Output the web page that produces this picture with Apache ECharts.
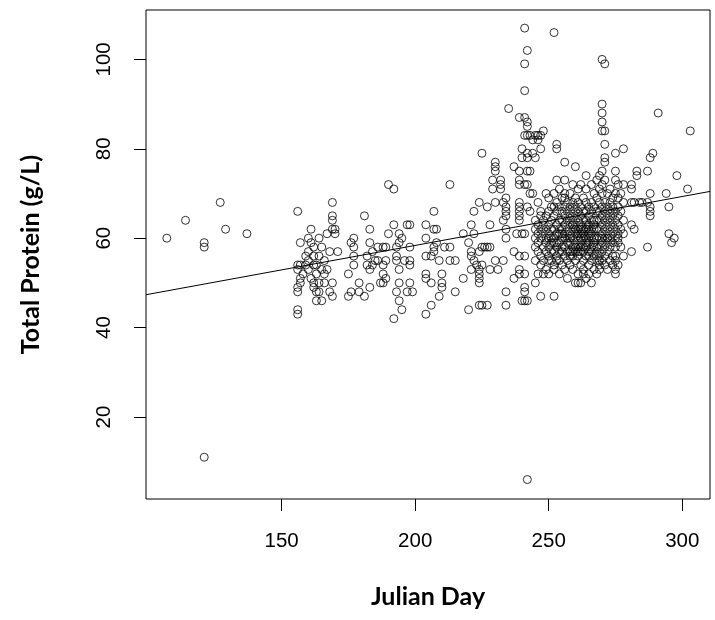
<!DOCTYPE html>
<html>
<head>
<meta charset="utf-8">
<script src="https://cdn.jsdelivr.net/npm/echarts@6.0.0/dist/echarts.min.js"></script>
<style>
html,body{margin:0;padding:0;background:#fff;}
#c{width:715px;height:620px;}
</style>
</head>
<body>
<div id="c"></div>
<script>
// Axis ticks
const xTickValues = [150, 200, 250, 300];
const yTickValues = [20, 40, 60, 80, 100];

// [Julian day, total protein g/L]
const earlySeason = [
  [107,60],[114,64],[121,59],[121,58],[121,11],[127,68],[129,62],[137,61],
  [156,66],[156,54],[156,53],[156,49],[156,48],[156,44],[156,43],
  [157,59],[157,54],[157,51],[157,50],[158,52],[159,54],[159,56],
  [160,60],[160,57],[160,55],[160,53],[161,62],[161,59],[161,51],
  [162,58],[162,56],[162,54],[162,50],[162,49],[163,54],[163,52],[163,48],[163,46],
  [164,60],[164,56],[164,50],[164,48],[165,46],[165,58],[165,53],[166,55],[166,52],[166,50],[167,53],[167,61],
  [168,57],[168,48],[169,68],[169,65],[169,64],[169,62],[169,50],[169,47],[170,62],[170,61],[171,57]
];

const midSeason = [
  [176,48],[175,47],[175,52],[177,60],[176,59],[177,58],[177,56],[177,54],[179,50],[179,48],[181,65],[181,47],
  [183,62],[183,49],[183,59],[184,57],[182,56],[182,54],[183,53],[184,54],[185,55],[186,58],[188,58],[189,58],
  [186,55],[189,55],[188,54],[188,52],[189,51],[188,50],[187,50],[190,72],[192,71],[190,61],[192,63],[194,61],
  [195,60],[194,59],[193,58],[193,56],[193,55],[194,53],[196,55],[198,58],[198,55],[198,54],[197,63],[198,63],
  [194,50],[198,50],[193,48],[197,48],[199,48],[194,46],[195,44],[192,42],
  [204,63],[207,66],[207,62],[208,62],[204,60],[208,59],[207,58],[211,58],[213,58],[204,56],[206,56],[207,57],
  [209,55],[213,55],[215,55],[204,52],[204,51],[206,50],[210,52],[210,50],[210,49],[209,47],[215,48],[206,45],
  [204,43],[213,72],
  [224,68],[222,66],[221,63],[218,61],[222,61],[220,59],[221,57],[221,56],[224,57],[222,55],[223,54],[221,53],
  [224,53],[224,50],[218,51],[220,44],[225,45],[226,58],
  [225,79],[227,67],[228,63],[230,77],[230,76],[230,75],[229,73],[229,71],[230,68],[232,73],[232,72],[232,71],
  [234,69],[233,68],[234,67],[234,66],[234,65],[233,64],[234,62],[237,76],[235,89],
  [234,60],[225,58],[228,58],[227,58],[230,55],[233,55],[225,54],[231,53],[228,53],[224,52],[224,51],
  [237,51],[234,48],[224,45],[227,45],[234,45],
  [237,57],[239,56],[241,56],[239,53],[239,52],[241,52],[241,49],[241,48],[240,46],[241,46],[242,46],
  [238,61],[240,61],[241,61],[242,6]
];

const lateSeason = [
  [241,107],[252,106],[242,102],[241,99],[241,93],[239,87],[241,87],[242,86],[242,85],[241,83],[243,83],[245,83],
  [246,83],[248,84],[242,83],[244,82],[246,82],[247,83],[253,81],[253,80],[240,80],[242,79],[244,79],[247,80],
  [240,78],[242,78],[245,78],[239,75],[239,73],[239,72],[242,75],[243,75],[241,72],[242,72],[243,70],[244,70],
  [249,70],[253,73],[256,73],[256,77],[260,76],[264,74],[259,72],[262,72],[258,70],[260,69],[264,71],
  [239,68],[239,67],[239,66],[239,65],[239,64],[242,67],[243,66],[246,68],[247,66],[247,65],[250,69],[252,67],
  [255,69],[256,69],
  [245,50],[245,55],[245,58],[245,60],[245,62],[245,64],
  [246,52],[246,57],[246,59],[246,61],[246,63],
  [247,47],[247,54],[247,56],[247,60],[247,62],
  [248,52],[248,55],[248,58],[248,61],[248,63],[248,64],
  [249,53],[249,57],[249,59],[249,60],[249,62],[249,65],
  [250,52],[250,55],[250,56],[250,58],[250,60],[250,61],[250,63],[250,66],
  [251,55],[251,57],[251,59],[251,60],[251,62],[251,64],[251,67],
  [252,47],[252,53],[252,54],[252,57],[252,59],[252,60],[252,62],[252,65],[252,70],
  [253,55],[253,56],[253,58],[253,59],[253,61],[253,63],[253,66],[253,68],
  [254,52],[254,55],[254,57],[254,59],[254,61],[254,62],[254,64],[254,67],[254,71],
  [255,54],[255,57],[255,58],[255,60],[255,61],[255,62],[255,64],[255,66],
  [256,53],[256,56],[256,58],[256,60],[256,61],[256,63],[256,65],[256,67],[256,70],
  [257,51],[257,55],[257,57],[257,59],[257,60],[257,62],[257,64],[257,66],[257,68],
  [258,54],[258,56],[258,57],[258,59],[258,60],[258,61],[258,63],[258,65],[258,67],
  [259,53],[259,56],[259,57],[259,58],[259,60],[259,62],[259,63],[259,64],[259,66],[259,68],
  [260,50],[260,55],[260,57],[260,58],[260,59],[260,61],[260,62],[260,63],[260,65],[260,67],
  [261,50],[261,52],[261,56],[261,57],[261,58],[261,60],[261,61],[261,62],[261,64],[261,66],[261,68],[261,71],
  [262,50],[262,54],[262,57],[262,58],[262,59],[262,60],[262,61],[262,62],[262,63],[262,65],[262,67],
  [263,52],[263,53],[263,55],[263,57],[263,58],[263,60],[263,61],[263,62],[263,64],[263,66],[263,69],
  [264,51],[264,56],[264,58],[264,59],[264,60],[264,62],[264,63],[264,64],[264,66],[264,68],
  [265,52],[265,54],[265,56],[265,57],[265,59],[265,60],[265,61],[265,62],[265,63],[265,65],[265,67],
  [266,50],[266,55],[266,57],[266,58],[266,60],[266,61],[266,62],[266,64],[266,66],[266,68],[266,72],
  [267,53],[267,56],[267,58],[267,59],[267,60],[267,62],[267,63],[267,64],[267,67],[267,70],
  [268,52],[268,55],[268,57],[268,58],[268,60],[268,62],[268,64],[268,66],[268,69],[268,73],
  [269,53],[269,54],[269,55],[269,56],[269,58],[269,60],[269,62],[269,64],[269,66],[269,68],[269,71],[269,74],
  [270,55],[270,57],[270,59],[270,60],[270,61],[270,63],[270,65],[270,67],[270,70],[270,72],[270,75],
  [271,54],[271,56],[271,58],[271,60],[271,62],[271,64],[271,66],[271,68],[271,73],
  [272,53],[272,57],[272,59],[272,60],[272,61],[272,63],[272,65],[272,67],[272,70],
  [273,55],[273,58],[273,60],[273,62],[273,64],[273,66],[273,68],[273,71],
  [274,54],[274,56],[274,59],[274,61],[274,63],[274,65],[274,67],[274,69],
  [275,52],[275,53],[275,55],[275,56],[275,58],[275,60],[275,62],[275,64],[275,66],[275,70],[275,73],[275,75],
  [276,54],[276,59],[276,60],[276,61],[276,63],[276,65],[276,67],[276,69],[276,72],
  [277,58],[277,62],[277,66],[277,70],
  [278,56],[278,61],[278,64],[278,68],[278,72],[278,80],[275,79],
  [270,100],[271,99],[270,90],[270,88],[270,86],[271,84],[271,81],[271,78],[271,77],[270,84],
  [281,57],[281,63],[282,62],[281,71],[281,72],[283,75],[283,74],[285,68],[281,68],[282,68],[284,68],
  [287,75],[287,68],[288,67],[288,66],[288,65],[287,58],[288,70],[288,78],[289,79],[291,88],
  [294,70],[295,67],[295,61],[297,60],[296,59],[298,74],[302,71],[303,84]
];

// Fitted regression line, read at the plot edges
const fitLineDays = [99.2, 310.4];
const fitLineProtein = [47.35, 70.46];

const allPoints = earlySeason.concat(midSeason, lateSeason);
const fitLine = fitLineDays.map((d, i) => [d, fitLineProtein[i]]);

const chart = echarts.init(document.getElementById('c'), null, {renderer: 'canvas'});
chart.setOption({
  animation: false,
  backgroundColor: '#ffffff',
  grid: {
    left: 146, top: 10, width: 564, height: 489,
    show: true, borderColor: '#000', borderWidth: 1, backgroundColor: 'transparent'
  },
  xAxis: {
    type: 'value', min: 99.2, max: 310.4,
    axisLine: {show: false},
    splitLine: {show: false},
    axisTick: {show: true, length: 12, customValues: xTickValues, lineStyle: {color: '#000', width: 1}},
    axisLabel: {customValues: xTickValues, color: '#000', fontSize: 20.5, fontFamily: 'Liberation Sans', margin: 32},
    name: 'Julian Day', nameLocation: 'middle', nameGap: 85,
    nameTextStyle: {fontFamily: 'Lato', fontWeight: 'bold', fontSize: 25, color: '#000'}
  },
  yAxis: {
    type: 'value', min: 1.65, max: 111.05,
    axisLine: {show: false},
    splitLine: {show: false},
    axisTick: {show: true, length: 12, customValues: yTickValues, lineStyle: {color: '#000', width: 1}},
    axisLabel: {customValues: yTickValues, color: '#000', fontSize: 20.5, fontFamily: 'Liberation Sans', margin: 31, rotate: 90},
    name: 'Total Protein (g/L)', nameLocation: 'middle', nameGap: 103, nameRotate: 90,
    nameTextStyle: {fontFamily: 'Lato', fontWeight: 'bold', fontSize: 25, color: '#000'}
  },
  series: [
    {
      type: 'scatter',
      data: allPoints,
      symbol: 'circle',
      symbolSize: 8,
      itemStyle: {color: 'rgba(0,0,0,0)', borderColor: '#000', borderWidth: 1},
      emphasis: {disabled: true},
      clip: true
    },
    {
      type: 'line',
      data: fitLine,
      symbol: 'none',
      lineStyle: {color: '#000', width: 1},
      emphasis: {disabled: true},
      clip: true
    }
  ]
});
</script>
</body>
</html>
